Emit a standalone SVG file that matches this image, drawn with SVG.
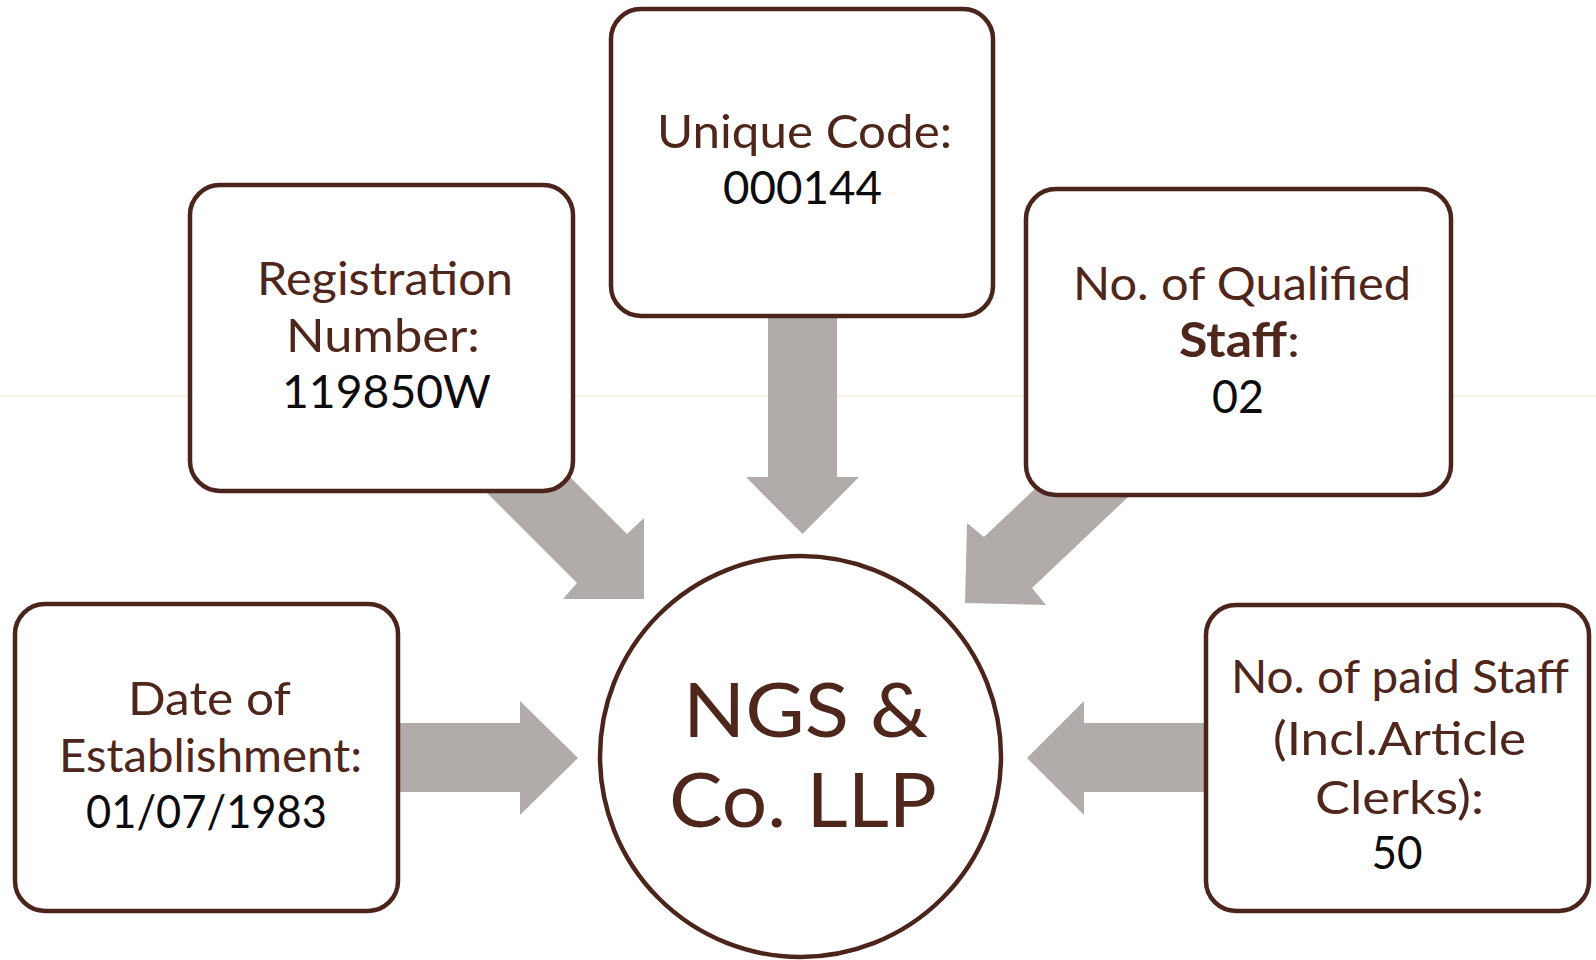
<svg xmlns="http://www.w3.org/2000/svg" width="1596" height="960" viewBox="0 0 1596 960">
  <style>
    .box { fill: #FFFFFF; stroke: #4B241B; stroke-width: 4.5; }
    .arrow { fill: #B1ACA9; stroke: none; }
    .lbl { font-family: Lato, "Open Sans", sans-serif; font-size: 47px; fill: #4E261C; text-anchor: middle; }
    .val { font-family: Lato, "Open Sans", sans-serif; font-size: 47px; fill: #0C0C0C; text-anchor: middle; }
    .big { font-family: Lato, "Open Sans", sans-serif; font-size: 75px; fill: #4E261C; text-anchor: middle; }
  </style>
  <rect x="0" y="0" width="1596" height="960" fill="#FFFFFF"/>
  <line x1="0" y1="396" x2="1596" y2="396" stroke="#F5EEE0" stroke-width="1.5"/>

  <g id="connectors">
    <polygon class="arrow" points="390,723 520,723 520,701 578,758 520,815 520,792 390,792"/>
    <polygon class="arrow" points="1210,723 1084,723 1084,701 1027,758 1084,815 1084,792 1210,792"/>
    <polygon class="arrow" points="768,300 837,300 837,477 859,477 802.5,534 746,477 768,477"/>
    <polygon class="arrow" points="477,384 627,534 644,518 644,599 563,599 577,583 427,433"/>
    <polygon class="arrow" points="1134,395 984,537 967,523 965,603 1046,605 1032,588 1182,446"/>
  </g>

  <g id="node-registration">
    <rect class="box" x="190" y="185" width="383" height="306" rx="30" ry="30"/>
    <text class="lbl" x="385" y="295" textLength="256" lengthAdjust="spacingAndGlyphs">Registration</text>
    <text class="lbl" x="383" y="352" textLength="194" lengthAdjust="spacingAndGlyphs">Number:</text>
    <text class="val" x="386.5" y="408" textLength="209" lengthAdjust="spacingAndGlyphs">119850W</text>
  </g>

  <g id="node-unique-code">
    <rect class="box" x="611" y="9" width="382" height="307" rx="30" ry="30"/>
    <text class="lbl" x="804.5" y="148" textLength="295" lengthAdjust="spacingAndGlyphs">Unique Code:</text>
    <text class="val" x="802.5" y="204" textLength="159" lengthAdjust="spacingAndGlyphs">000144</text>
  </g>

  <g id="node-qualified-staff">
    <rect class="box" x="1026" y="189" width="425" height="306" rx="30" ry="30"/>
    <text class="lbl" x="1242" y="300" textLength="338" lengthAdjust="spacingAndGlyphs">No. of Qualified</text>
    <text class="lbl" x="1239.5" y="357" textLength="121" lengthAdjust="spacingAndGlyphs"><tspan font-weight="bold">Staff</tspan>:</text>
    <text class="val" x="1238" y="413" textLength="52" lengthAdjust="spacingAndGlyphs">02</text>
  </g>

  <g id="node-date">
    <rect class="box" x="15" y="604" width="383" height="307" rx="30" ry="30"/>
    <text class="lbl" x="209.5" y="715" textLength="163" lengthAdjust="spacingAndGlyphs">Date of</text>
    <text class="lbl" x="210.5" y="772" textLength="303" lengthAdjust="spacingAndGlyphs">Establishment:</text>
    <text class="val" x="206.5" y="828" textLength="241" lengthAdjust="spacingAndGlyphs">01/07/1983</text>
  </g>

  <g id="node-paid-staff">
    <rect class="box" x="1206" y="605" width="383" height="306" rx="30" ry="30"/>
    <text class="lbl" x="1400" y="693" textLength="338" lengthAdjust="spacingAndGlyphs">No. of paid Staff</text>
    <text class="lbl" x="1399.5" y="755" textLength="253" lengthAdjust="spacingAndGlyphs">(Incl.Article</text>
    <text class="lbl" x="1399.5" y="814" textLength="169" lengthAdjust="spacingAndGlyphs">Clerks):</text>
    <text class="val" x="1397" y="869" textLength="51" lengthAdjust="spacingAndGlyphs">50</text>
  </g>

  <g id="node-center">
    <ellipse class="box" cx="800.5" cy="756.5" rx="200.5" ry="200.5"/>
    <text class="big" x="805.5" y="737" textLength="245" lengthAdjust="spacingAndGlyphs">NGS &amp;</text>
    <text class="big" x="803" y="827" textLength="268" lengthAdjust="spacingAndGlyphs">Co. LLP</text>
  </g>
</svg>
